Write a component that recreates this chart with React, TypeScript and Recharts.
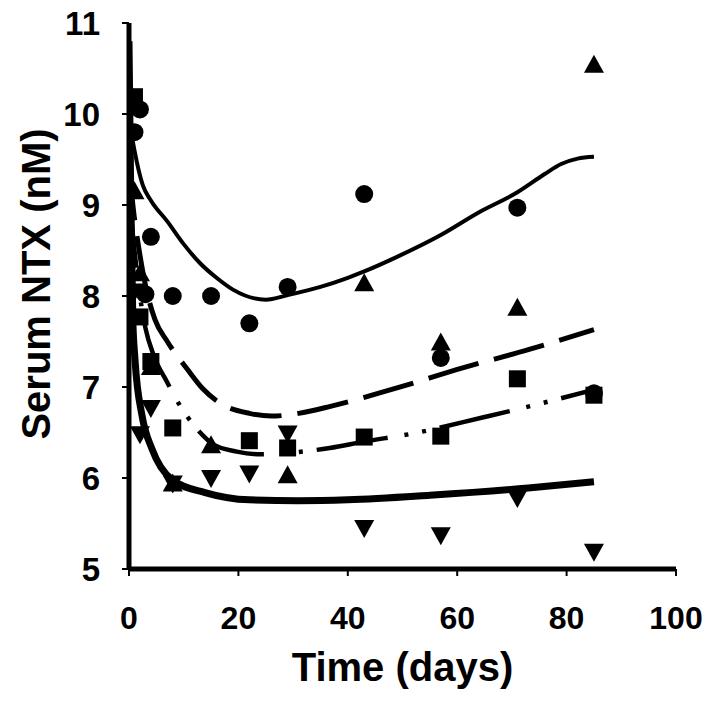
import React from 'react';
import { ComposedChart, XAxis, YAxis, Line, Scatter, Label } from 'recharts';

const xTicks = [0, 20, 40, 60, 80, 100];
const yTicks = [5, 6, 7, 8, 9, 10, 11];

// Observed data (x = day, y = serum NTX nM)
const circleX = [1, 2, 3, 4, 8, 15, 22, 29, 43, 57, 71, 85];
const circleY = [9.8, 10.05, 8.02, 8.65, 8.0, 8.0, 7.7, 8.1, 9.12, 7.32, 8.97, 6.93];

const triUpX = [1, 2, 4, 8, 15, 29, 43, 57, 71, 85];
const triUpY = [9.15, 8.25, 7.22, 5.94, 6.36, 6.03, 8.14, 7.49, 7.87, 10.54];

const squareX = [1, 2, 4, 8, 22, 29, 43, 57, 71, 85];
const squareY = [10.19, 7.77, 7.28, 6.55, 6.41, 6.33, 6.45, 6.46, 7.09, 6.91];

const triDownX = [1, 2, 4, 8, 15, 22, 29, 43, 57, 71, 85];
const triDownY = [8.05, 6.48, 6.77, 5.94, 6.0, 6.05, 6.49, 5.45, 5.37, 5.78, 5.19];

// Fitted curves
const fitThinX = [0, 1, 2.5, 4, 7, 10, 13, 16, 19, 25, 29, 35, 40, 43, 49, 57, 64, 71, 76, 79, 82, 85];
const fitThinY = [9.95, 9.6, 9.22, 9.05, 8.82, 8.57, 8.36, 8.2, 8.07, 7.96, 8.01, 8.1, 8.2, 8.27, 8.43, 8.67, 8.92, 9.14, 9.34, 9.45, 9.51, 9.53];

const fitDashX = [0, 1, 2, 3, 4.75, 7, 10.6, 13.5, 17, 22, 26, 31, 37, 49, 61, 73, 85];
const fitDashY = [9.4, 8.85, 8.45, 8.12, 7.74, 7.5, 7.2, 6.98, 6.81, 6.71, 6.68, 6.71, 6.79, 6.99, 7.21, 7.41, 7.63];

const fitDotX = [0, 1, 2, 3, 4.5, 7, 8.4, 10.6, 13, 15.4, 19.7, 24, 28, 36.7, 43, 52, 65, 72, 85];
const fitDotY = [9.1, 8.5, 8.0, 7.65, 7.35, 7.05, 6.89, 6.68, 6.5, 6.37, 6.29, 6.26, 6.27, 6.33, 6.4, 6.49, 6.67, 6.77, 6.97];

const fitThickX = [0, 0.3, 0.7, 1.1, 2.4, 4.2, 7.9, 13.9, 22, 31, 40, 55, 73, 85];
const fitThickY = [10.8, 9.2, 7.74, 7.3, 6.68, 6.32, 5.98, 5.84, 5.76, 5.75, 5.76, 5.81, 5.89, 5.96];

const zip = (xs: number[], ys: number[]) => xs.map((x, i) => ({ x, y: ys[i] }));

const FONT = '"Liberation Sans", Arial, sans-serif';

const CircleShape = (p: any) => <circle cx={p.cx} cy={p.cy} r={9} fill="#000" />;
const SquareShape = (p: any) => <rect x={p.cx - 8.5} y={p.cy - 8.5} width={17} height={17} fill="#000" />;
const TriUpShape = (p: any) => (
  <polygon points={`${p.cx},${p.cy - 10} ${p.cx - 10},${p.cy + 8} ${p.cx + 10},${p.cy + 8}`} fill="#000" />
);
const TriDownShape = (p: any) => (
  <polygon points={`${p.cx},${p.cy + 10} ${p.cx - 10},${p.cy - 8} ${p.cx + 10},${p.cy - 8}`} fill="#000" />
);

const XTick = (p: any) => (
  <text x={p.x} y={p.y} textAnchor="middle" dominantBaseline="central" fontFamily={FONT} fontWeight="bold" fontSize={32} fill="#000">
    {p.payload.value}
  </text>
);
const YTick = (p: any) => (
  <text x={p.x} y={p.y} textAnchor="end" dominantBaseline="central" fontFamily={FONT} fontWeight="bold" fontSize={33} fill="#000">
    {p.payload.value}
  </text>
);

const YTitle = (props: any) => {
  const vb = props.viewBox || { x: 0, y: 23, width: 129, height: 546 };
  const cx = vb.x + 36;
  const cy = vb.y + vb.height / 2 - 12;
  return (
    <text
      x={cx}
      y={cy}
      transform={`rotate(-90 ${cx} ${cy})`}
      textAnchor="middle"
      dominantBaseline="central"
      fontFamily={FONT}
      fontWeight="bold"
      fontSize={40}
      fill="#000"
    >
      Serum NTX (nM)
    </text>
  );
};

export default function App() {
  return (
    <div style={{ marginLeft: -8, marginTop: -8, width: 716, height: 703, background: '#fff' }}>
      <ComposedChart width={716} height={703} margin={{ top: 23, right: 40, bottom: 0, left: 0 }}>
        <XAxis
          type="number"
          dataKey="x"
          domain={[0, 100]}
          ticks={xTicks}
          height={134}
          axisLine={{ stroke: '#000', strokeWidth: 5 }}
          tickLine={{ stroke: '#000', strokeWidth: 2 }}
          tickSize={7}
          tickMargin={42}
          tick={<XTick />}
          allowDataOverflow
        >
          <Label
            value="Time (days)"
            position="insideBottom"
            offset={22}
            style={{ fontFamily: FONT, fontWeight: 'bold', fontSize: 40, fill: '#000' }}
          />
        </XAxis>
        <YAxis
          type="number"
          dataKey="y"
          domain={[5, 11]}
          ticks={yTicks}
          width={129}
          axisLine={{ stroke: '#000', strokeWidth: 5 }}
          tickLine={{ stroke: '#000', strokeWidth: 2 }}
          tickSize={7}
          tickMargin={22}
          tick={<YTick />}
          allowDataOverflow
        >
          <Label content={<YTitle />} />
        </YAxis>
        <Line data={zip(fitThinX, fitThinY)} dataKey="y" type="monotone" stroke="#000" strokeWidth={4} dot={false} isAnimationActive={false} />
        <Line data={zip(fitDashX, fitDashY)} dataKey="y" type="monotone" stroke="#000" strokeWidth={5} strokeDasharray="52 16" dot={false} isAnimationActive={false} />
        <Line data={zip(fitDotX, fitDotY)} dataKey="y" type="monotone" stroke="#000" strokeWidth={4.5} strokeDasharray="72 17 4 14 4 14" dot={false} isAnimationActive={false} />
        <Line data={zip(fitThickX, fitThickY)} dataKey="y" type="monotone" stroke="#000" strokeWidth={7} dot={false} isAnimationActive={false} />
        <Scatter data={zip(circleX, circleY)} shape={CircleShape} isAnimationActive={false} />
        <Scatter data={zip(triUpX, triUpY)} shape={TriUpShape} isAnimationActive={false} />
        <Scatter data={zip(squareX, squareY)} shape={SquareShape} isAnimationActive={false} />
        <Scatter data={zip(triDownX, triDownY)} shape={TriDownShape} isAnimationActive={false} />
      </ComposedChart>
    </div>
  );
}
